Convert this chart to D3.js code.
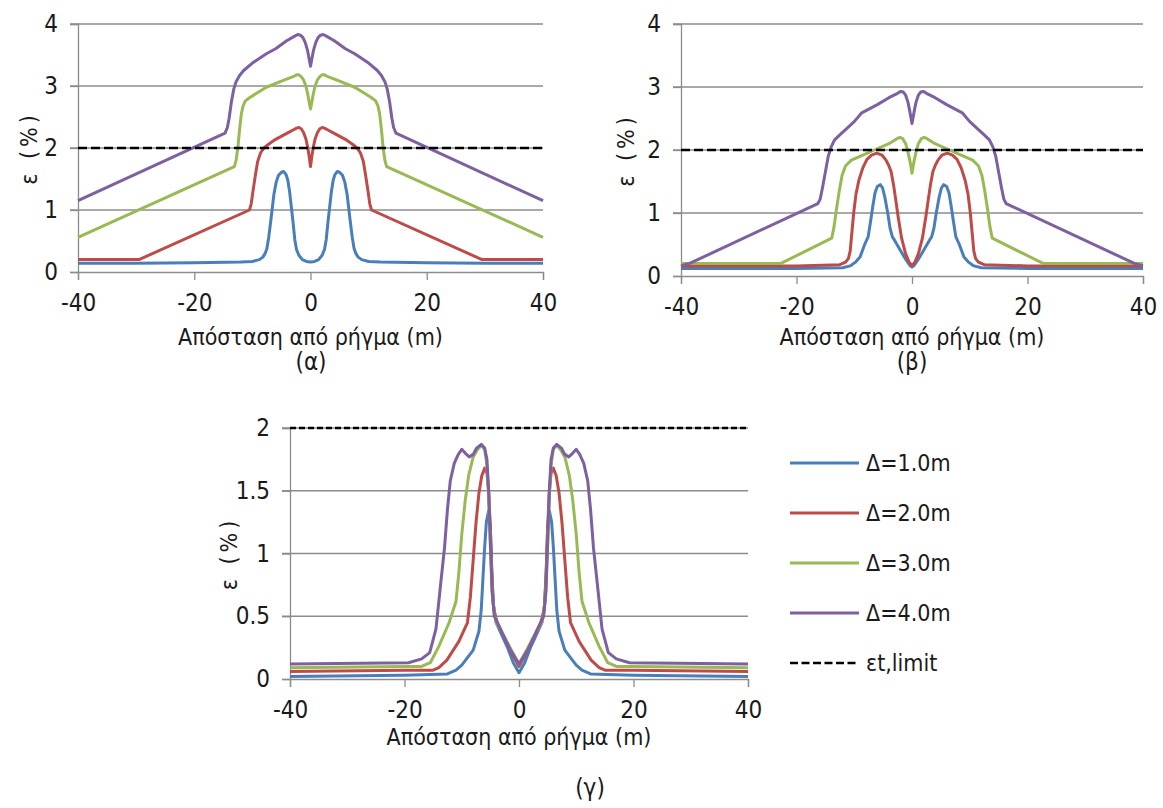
<!DOCTYPE html>
<html lang="el">
<head>
<meta charset="UTF-8" />
<title>ε vs distance</title>
<script src="https://cdn.jsdelivr.net/npm/d3@7"></script>
<style>
  body { margin: 0; background: #fff; }
  svg text { font-family: "DejaVu Sans Condensed", "DejaVu Sans", sans-serif; fill: #1a1a1a; }
</style>
</head>
<body>
<svg width="1163" height="808"></svg>
<script>
// ---- data ----
var xTicks = [-40, -20, 0, 20, 40]
var limitValue = 2
var seriesNames = ['Δ=1.0m', 'Δ=2.0m', 'Δ=3.0m', 'Δ=4.0m']
var limitName = 'εt,limit'
var colors = ['#4a7ebb', '#be4b48', '#98b954', '#7d60a0']
var FONT = '"DejaVu Sans Condensed", "DejaVu Sans", sans-serif'

// (α)
var a1 = [[-40,0.14],[-30,0.14],[-20,0.15],[-12,0.16],[-10,0.17],[-8.8,0.2],[-8.2,0.24],[-7.8,0.3],[-7.5,0.38],[-7.2,0.55],[-6.8,0.85],[-6.3,1.25],[-5.9,1.45],[-5.5,1.56],[-5,1.61],[-4.6,1.62],[-4.2,1.57],[-3.9,1.48],[-3.6,1.3],[-3.3,1.05],[-3,0.8],[-2.7,0.52],[-2.4,0.36],[-2,0.27],[-1.4,0.2],[-0.7,0.17],[0,0.16],
          [0.7,0.17],[1.4,0.2],[2,0.27],[2.4,0.36],[2.7,0.52],[3,0.8],[3.3,1.05],[3.6,1.3],[3.9,1.48],[4.2,1.57],[4.6,1.62],[5,1.61],[5.5,1.56],[5.9,1.45],[6.3,1.25],[6.8,0.85],[7.2,0.55],[7.5,0.38],[7.8,0.3],[8.2,0.24],[8.8,0.2],[10,0.17],[12,0.16],[20,0.15],[30,0.14],[40,0.14]]
var a2 = [[-40,0.2],[-29.5,0.2],[-10.5,1.0],[-10.2,1.1],[-9.9,1.3],[-9.5,1.55],[-9.1,1.78],[-8.6,1.92],[-8.1,1.99],[-7.4,2.05],[-6,2.14],[-4,2.24],[-3,2.29],[-2.4,2.32],[-2,2.33],[-1.6,2.31],[-1.2,2.25],[-0.8,2.15],[-0.5,2.02],[-0.25,1.88],[0,1.7],
          [0.25,1.88],[0.5,2.02],[0.8,2.15],[1.2,2.25],[1.6,2.31],[2,2.33],[2.4,2.32],[3,2.29],[4,2.24],[6,2.14],[7.4,2.05],[8.1,1.99],[8.6,1.92],[9.1,1.78],[9.5,1.55],[9.9,1.3],[10.2,1.1],[10.5,1.0],[29.5,0.2],[40,0.2]]
var a3 = [[-40,0.56],[-13.1,1.7],[-12.8,1.8],[-12.5,2.0],[-12.2,2.3],[-11.9,2.55],[-11.6,2.68],[-11.2,2.76],[-10.5,2.81],[-9.5,2.87],[-7.6,2.98],[-5,3.08],[-3,3.15],[-2.4,3.18],[-2,3.18],[-1.6,3.15],[-1.2,3.1],[-0.8,3.0],[-0.5,2.88],[-0.25,2.75],[0,2.63],
          [0.25,2.75],[0.5,2.88],[0.8,3.0],[1.2,3.1],[1.6,3.15],[2,3.18],[2.4,3.18],[3,3.15],[5,3.08],[7.6,2.98],[9.5,2.87],[10.5,2.81],[11.2,2.76],[11.6,2.68],[11.9,2.55],[12.2,2.3],[12.5,2.0],[12.8,1.8],[13.1,1.7],[40,0.56]]
var a4 = [[-40,1.15],[-14.7,2.24],[-14.3,2.33],[-14,2.48],[-13.6,2.75],[-13.2,2.95],[-12.8,3.07],[-12.2,3.17],[-11.5,3.25],[-10,3.37],[-7.6,3.52],[-6,3.6],[-4.1,3.73],[-2.8,3.8],[-2.2,3.83],[-1.7,3.82],[-1.3,3.78],[-0.9,3.7],[-0.5,3.57],[-0.2,3.42],[0,3.32],
          [0.2,3.42],[0.5,3.57],[0.9,3.7],[1.3,3.78],[1.7,3.82],[2.2,3.83],[2.8,3.8],[4.1,3.73],[6,3.6],[7.6,3.52],[10,3.37],[11.5,3.25],[12.2,3.17],[12.8,3.07],[13.2,2.95],[13.6,2.75],[14,2.48],[14.3,2.33],[14.7,2.24],[40,1.15]]

// (β)
var b1 = [[-40,0.12],[-20,0.12],[-12,0.13],[-10.7,0.16],[-9.8,0.22],[-9,0.3],[-8.2,0.5],[-7.6,0.62],[-7.2,0.85],[-6.8,1.1],[-6.4,1.32],[-6,1.42],[-5.5,1.45],[-5.1,1.4],[-4.7,1.25],[-4.2,1.0],[-3.8,0.76],[-3.4,0.62],[-3.1,0.58],[-2.1,0.42],[-1.2,0.28],[-0.4,0.17],[0,0.14],
          [0.4,0.17],[1.2,0.28],[2.1,0.42],[3.1,0.58],[3.4,0.62],[3.8,0.76],[4.2,1.0],[4.7,1.25],[5.1,1.4],[5.5,1.45],[6,1.42],[6.4,1.32],[6.8,1.1],[7.2,0.85],[7.6,0.62],[8.2,0.5],[9,0.3],[9.8,0.22],[10.7,0.16],[12,0.13],[20,0.12],[40,0.12]]
var b2 = [[-40,0.16],[-20,0.16],[-12.5,0.18],[-11.5,0.22],[-11,0.28],[-10.7,0.4],[-10.4,0.7],[-10.1,1.0],[-9.7,1.3],[-9.2,1.52],[-8.5,1.72],[-7.8,1.85],[-7,1.92],[-6.1,1.95],[-5.2,1.92],[-4.5,1.84],[-4,1.75],[-3.6,1.65],[-3.2,1.45],[-2.8,1.2],[-2.4,0.94],[-1.8,0.6],[-1.1,0.35],[-0.5,0.22],[0,0.17],
          [0.5,0.22],[1.1,0.35],[1.8,0.6],[2.4,0.94],[2.8,1.2],[3.2,1.45],[3.6,1.65],[4,1.75],[4.5,1.84],[5.2,1.92],[6.1,1.95],[7,1.92],[7.8,1.85],[8.5,1.72],[9.2,1.52],[9.7,1.3],[10.1,1.0],[10.4,0.7],[10.7,0.4],[11,0.28],[11.5,0.22],[12.5,0.18],[20,0.16],[40,0.16]]
var b3 = [[-40,0.2],[-22.7,0.2],[-13.9,0.6],[-13.5,0.78],[-13.1,1.05],[-12.6,1.35],[-12.1,1.6],[-11.5,1.75],[-10.5,1.84],[-9,1.9],[-6.5,2.0],[-4,2.1],[-2.6,2.18],[-2.1,2.2],[-1.6,2.18],[-1.1,2.1],[-0.7,1.97],[-0.35,1.82],[0,1.63],
          [0.35,1.82],[0.7,1.97],[1.1,2.1],[1.6,2.18],[2.1,2.2],[2.6,2.18],[4,2.1],[6.5,2.0],[9,1.9],[10.5,1.84],[11.5,1.75],[12.1,1.6],[12.6,1.35],[13.1,1.05],[13.5,0.78],[13.9,0.6],[22.7,0.2],[40,0.2]]
var b4 = [[-40,0.16],[-38.5,0.2],[-16.3,1.15],[-15.9,1.22],[-15.5,1.4],[-15,1.65],[-14.5,1.9],[-14,2.05],[-13.4,2.16],[-12.5,2.24],[-10,2.45],[-8.7,2.59],[-6,2.72],[-4,2.83],[-2.5,2.9],[-2,2.93],[-1.5,2.92],[-1.1,2.87],[-0.7,2.76],[-0.35,2.6],[0,2.42],
          [0.35,2.6],[0.7,2.76],[1.1,2.87],[1.5,2.92],[2,2.93],[2.5,2.9],[4,2.83],[6,2.72],[8.7,2.59],[10,2.45],[12.5,2.24],[13.4,2.16],[14,2.05],[14.5,1.9],[15,1.65],[15.5,1.4],[15.9,1.22],[16.3,1.15],[38.5,0.2],[40,0.16]]

// (γ)
var g1 = [[-40,0.02],[-20,0.03],[-12.5,0.04],[-12,0.05],[-11,0.07],[-10,0.11],[-8,0.23],[-7,0.38],[-6.6,0.55],[-6.3,0.8],[-6,1.05],[-5.7,1.25],[-5.3,1.34],[-5,1.2],[-4.8,0.9],[-4.5,0.6],[-4,0.45],[-3,0.35],[-2,0.25],[-1,0.13],[0,0.05],
          [1,0.13],[2,0.25],[3,0.35],[4,0.45],[4.5,0.6],[4.8,0.9],[5,1.2],[5.3,1.34],[5.7,1.25],[6,1.05],[6.3,0.8],[6.6,0.55],[7,0.38],[8,0.23],[10,0.11],[11,0.07],[12,0.05],[12.5,0.04],[20,0.03],[40,0.02]]
var g2 = [[-40,0.06],[-20,0.07],[-15,0.07],[-14,0.09],[-12.6,0.15],[-10.5,0.3],[-9,0.45],[-8.5,0.65],[-8,0.95],[-7.5,1.25],[-7,1.48],[-6.5,1.62],[-6,1.68],[-5.6,1.64],[-5.3,1.5],[-5,1.2],[-4.7,0.8],[-4.4,0.55],[-3.8,0.45],[-2.5,0.33],[-1.2,0.2],[0,0.1],
          [1.2,0.2],[2.5,0.33],[3.8,0.45],[4.4,0.55],[4.7,0.8],[5,1.2],[5.3,1.5],[5.6,1.64],[6,1.68],[6.5,1.62],[7,1.48],[7.5,1.25],[8,0.95],[8.5,0.65],[9,0.45],[10.5,0.3],[12.6,0.15],[14,0.09],[15,0.07],[20,0.07],[40,0.06]]
var g3 = [[-40,0.09],[-20,0.1],[-17,0.1],[-15.5,0.13],[-14,0.26],[-12.2,0.45],[-11,0.62],[-10.5,0.85],[-10,1.15],[-9.4,1.42],[-8.8,1.62],[-8,1.77],[-7.2,1.83],[-6.6,1.86],[-6,1.83],[-5.6,1.7],[-5.3,1.45],[-5,1.05],[-4.7,0.7],[-4.3,0.52],[-4,0.45],[-2.5,0.33],[-1.2,0.22],[0,0.12],
          [1.2,0.22],[2.5,0.33],[4,0.45],[4.3,0.52],[4.7,0.7],[5,1.05],[5.3,1.45],[5.6,1.7],[6,1.83],[6.6,1.86],[7.2,1.83],[8,1.77],[8.8,1.62],[9.4,1.42],[10,1.15],[10.5,0.85],[11,0.62],[12.2,0.45],[14,0.26],[15.5,0.13],[17,0.1],[20,0.1],[40,0.09]]
var g4 = [[-40,0.12],[-19.3,0.13],[-17,0.16],[-15.6,0.21],[-14.5,0.4],[-13.7,0.75],[-13,1.05],[-12.5,1.35],[-12,1.58],[-11.3,1.72],[-10.6,1.79],[-10,1.83],[-9.4,1.8],[-8.7,1.77],[-8,1.79],[-7.4,1.84],[-6.6,1.87],[-6,1.84],[-5.6,1.75],[-5.3,1.5],[-5,1.1],[-4.7,0.7],[-4.3,0.5],[-3,0.37],[-1.5,0.23],[0,0.12],
          [1.5,0.23],[3,0.37],[4.3,0.5],[4.7,0.7],[5,1.1],[5.3,1.5],[5.6,1.75],[6,1.84],[6.6,1.87],[7.4,1.84],[8,1.79],[8.7,1.77],[9.4,1.8],[10,1.83],[10.6,1.79],[11.3,1.72],[12,1.58],[12.5,1.35],[13,1.05],[13.7,0.75],[14.5,0.4],[15.6,0.21],[17,0.16],[19.3,0.13],[40,0.12]]

var panels = [
  { series: [a1, a2, a3, a4], yTicks: [0, 1, 2, 3, 4], left: 78, right: 543, top: 24, bottom: 272,
    yTitleX: 29, titleY: 337, caption: '(α)', capX: 311, capY: 362, dash: '9,4' },
  { series: [b1, b2, b3, b4], yTicks: [0, 1, 2, 3, 4], left: 681, right: 1143, top: 24, bottom: 276,
    yTitleX: 626, titleY: 337, caption: '(β)', capX: 912, capY: 362, dash: '9,4' },
  { series: [g1, g2, g3, g4], yTicks: [0, 0.5, 1, 1.5, 2], left: 290, right: 748, top: 428, bottom: 679,
    yTitleX: 229, titleY: 737, caption: '(γ)', capX: 590, capY: 788, dash: '6,3' }
]

var svg = d3.select('svg')

panels.forEach(function (p) {
  var x = d3.scaleLinear().domain([-40, 40]).range([p.left, p.right])
  var y = d3.scaleLinear().domain([0, d3.max(p.yTicks)]).range([p.bottom, p.top])
  var g = svg.append('g')

  // gridlines
  g.append('g')
    .selectAll('line')
    .data(p.yTicks.filter(function (t) { return t > 0 }))
    .enter()
    .append('line')
    .attr('x1', p.left - 8).attr('x2', p.right)
    .attr('y1', function (d) { return y(d) }).attr('y2', function (d) { return y(d) })
    .attr('stroke', '#8c8c8c').attr('stroke-width', 1.3)

  // axes
  var ax = g.append('g')
    .attr('transform', 'translate(0,' + p.bottom + ')')
    .call(d3.axisBottom(x).tickValues(xTicks).tickSize(8).tickPadding(14).tickFormat(function (d) { return String(d) }))
  var ay = g.append('g')
    .attr('transform', 'translate(' + p.left + ',0)')
    .call(d3.axisLeft(y).tickValues(p.yTicks).tickSize(8).tickPadding(12).tickFormat(function (d) { return String(d) }))
  ;[ax, ay].forEach(function (a) {
    a.attr('font-family', FONT).attr('font-size', 24)
    a.select('.domain').attr('stroke', '#8c8c8c').attr('stroke-width', 1.3)
    a.selectAll('.tick line').attr('stroke', '#8c8c8c').attr('stroke-width', 1.3)
    a.selectAll('text').attr('fill', '#1a1a1a')
  })

  // curves
  var line = d3.line()
    .x(function (d) { return x(d[0]) })
    .y(function (d) { return y(d[1]) })
  g.append('g')
    .selectAll('path')
    .data(p.series)
    .enter()
    .append('path')
    .attr('d', line)
    .attr('fill', 'none')
    .attr('stroke', function (d, i) { return colors[i] })
    .attr('stroke-width', 3)
    .attr('stroke-linejoin', 'round')

  // limit line
  g.append('line')
    .attr('x1', x(-40)).attr('x2', x(40))
    .attr('y1', y(limitValue)).attr('y2', y(limitValue))
    .attr('stroke', '#000').attr('stroke-width', 2.6)
    .attr('stroke-dasharray', p.dash)

  // titles
  g.append('text')
    .attr('x', (p.left + p.right) / 2)
    .attr('y', p.titleY)
    .attr('dy', '0.35em')
    .attr('text-anchor', 'middle')
    .attr('font-size', 23)
    .text('Απόσταση από ρήγμα (m)')
  g.append('text')
    .attr('transform', 'translate(' + p.yTitleX + ',' + (p.top + p.bottom) / 2 + ') rotate(-90)')
    .attr('text-anchor', 'middle')
    .attr('dy', '0.35em')
    .attr('font-size', 23)
    .attr('letter-spacing', 4)
    .text('ε (%)')
  g.append('text')
    .attr('x', p.capX).attr('y', p.capY)
    .attr('text-anchor', 'middle')
    .attr('dy', '0.35em')
    .attr('font-size', 24)
    .text(p.caption)
})

// legend
var legendRows = seriesNames.concat([limitName])
var legend = svg.append('g')
  .selectAll('g')
  .data(legendRows)
  .enter()
  .append('g')
  .attr('transform', function (d, i) { return 'translate(790,' + (463 + i * 50) + ')' })
legend.append('line')
  .attr('x1', 0).attr('x2', 69)
  .attr('stroke', function (d, i) { return i < 4 ? colors[i] : '#000' })
  .attr('stroke-width', function (d, i) { return i < 4 ? 3 : 2.6 })
  .attr('stroke-dasharray', function (d, i) { return i < 4 ? null : '8,3.5' })
legend.append('text')
  .attr('x', 76)
  .attr('dy', '0.35em')
  .attr('font-size', 23)
  .text(function (d) { return d })
</script>
</body>
</html>
